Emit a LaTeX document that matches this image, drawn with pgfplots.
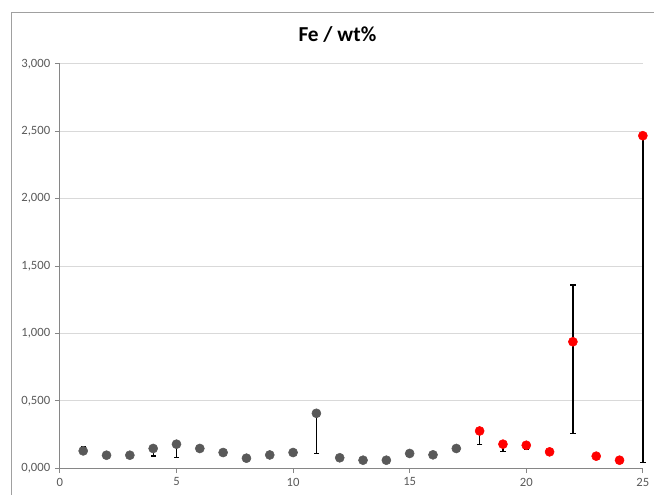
\documentclass[border=0pt]{standalone}
\usepackage{pgfplots}
\pgfplotsset{compat=1.18}
\usepackage{fontspec}
\setmainfont{Carlito}
\definecolor{markgray}{HTML}{595959}
\definecolor{labelgray}{HTML}{595959}
\definecolor{axisgray}{HTML}{868686}
\definecolor{gridgray}{HTML}{D9D9D9}
\definecolor{framegray}{HTML}{A0A0A0}
\definecolor{markred}{HTML}{FF0000}
\begin{document}
\begin{tikzpicture}
\begin{axis}[
  name=ax, at={(0,0)}, anchor=south west,
  scale only axis, width=438pt, height=303.75pt,
  xmin=0, xmax=25, ymin=0, ymax=3,
  xtick={0,5,...,25}, ytick={0,0.5,...,3},
  axis x line=bottom, axis y line=left,
  axis line style={-, draw=axisgray, line width=0.75pt},
  ymajorgrids, grid style={gridgray, line width=0.75pt},
  tick align=outside, major tick length=3.75pt,
  tick style={axisgray, line width=0.75pt},
  /pgf/number format/assume math mode=true,
  ticklabel style={font=\fontsize{9.5}{11}\selectfont, text=labelgray},
  yticklabel style={/pgf/number format/.cd, fixed, fixed zerofill, precision=3, use comma},
  xticklabel style={/pgf/number format/.cd, fixed, precision=0},
  clip=false,
]
% samples 1-17
\addplot[only marks, mark=*, mark size=3.4pt,
  mark options={draw=markgray, fill=markgray},
  error bars/.cd, y dir=both, y explicit,
  error bar style={black, line width=1pt},
  error mark options={black, line width=1pt, mark size=2pt, rotate=90}]
coordinates {
  (1,0.128)  += (0,0.030) -= (0,0.000)
  (2,0.096)  += (0,0) -= (0,0)
  (3,0.096)  += (0,0) -= (0,0)
  (4,0.146)  += (0,0) -= (0,0.055)
  (5,0.178)  += (0,0) -= (0,0.097)
  (6,0.146)  += (0,0) -= (0,0)
  (7,0.116)  += (0,0) -= (0,0)
  (8,0.074)  += (0,0) -= (0,0)
  (9,0.098)  += (0,0) -= (0,0)
  (10,0.116) += (0,0) -= (0,0)
  (11,0.407) += (0,0) -= (0,0.296)
  (12,0.077) += (0,0) -= (0,0)
  (13,0.059) += (0,0) -= (0,0)
  (14,0.059) += (0,0) -= (0,0)
  (15,0.109) += (0,0) -= (0,0)
  (16,0.099) += (0,0) -= (0,0)
  (17,0.146) += (0,0) -= (0,0)
};
% samples 18-25
\addplot[only marks, mark=*, mark size=3.4pt,
  mark options={draw=markred, fill=markred},
  error bars/.cd, y dir=both, y explicit,
  error bar style={black, line width=1pt},
  error mark options={black, line width=1pt, mark size=2pt, rotate=90}]
coordinates {
  (18,0.276) += (0,0) -= (0,0.098)
  (19,0.178) += (0,0) -= (0,0.055)
  (20,0.170) += (0,0) -= (0,0.030)
  (21,0.121) += (0,0) -= (0,0)
  (22,0.938) += (0,0.420) -= (0,0.679)
  (23,0.089) += (0,0) -= (0,0.020)
  (24,0.059) += (0,0) -= (0,0)
  (25,2.467) += (0,0) -= (0,2.425)
};
\end{axis}
\node[font=\bfseries\fontsize{16}{18}\selectfont, anchor=base] at (208.5pt,320.5pt) {Fe / wt\%};
\draw[framegray, line width=0.75pt] (-36.4pt,-20pt) -- (-36.4pt,342.4pt) -- (446pt,342.4pt);
\path[use as bounding box] (-45pt,-19.5pt) rectangle (445.5pt,351.75pt);
\end{tikzpicture}
\end{document}
